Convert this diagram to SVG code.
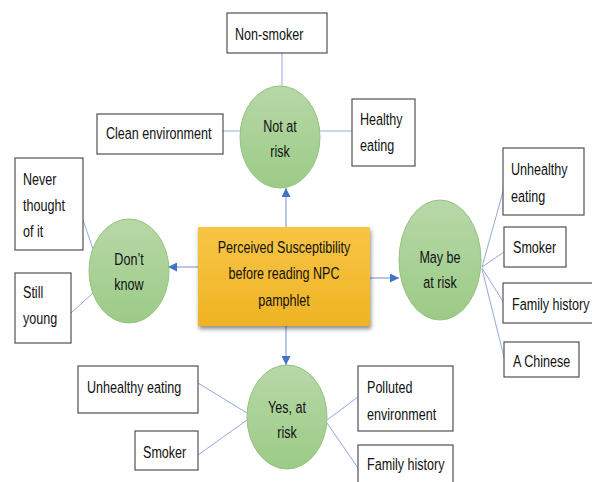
<svg xmlns="http://www.w3.org/2000/svg" width="592" height="482" viewBox="0 0 592 482">
<defs>
<linearGradient id="gGreen" x1="0" y1="0" x2="0" y2="1">
<stop offset="0" stop-color="#b7d8a8"/>
<stop offset="1" stop-color="#9ccb86"/>
</linearGradient>
<linearGradient id="gGold" x1="0" y1="0" x2="0" y2="1">
<stop offset="0" stop-color="#f8c545"/>
<stop offset="1" stop-color="#efb324"/>
</linearGradient>
<filter id="shadow" x="-10%" y="-10%" width="130%" height="140%">
<feGaussianBlur in="SourceAlpha" stdDeviation="2"/>
<feOffset dx="1" dy="3" result="b"/>
<feComponentTransfer><feFuncA type="linear" slope="0.45"/></feComponentTransfer>
<feMerge><feMergeNode/><feMergeNode in="SourceGraphic"/></feMerge>
</filter>
<marker id="arr" viewBox="0 0 10 10" refX="10" refY="5" markerWidth="9" markerHeight="9" markerUnits="userSpaceOnUse" orient="auto">
<path d="M0,0 L10,5 L0,10 z" fill="#4472c4"/>
</marker>
<style>
.box{fill:#ffffff;stroke:#505050;stroke-width:1.2}
.ell{fill:url(#gGreen);stroke:#94c27f;stroke-width:1}
.link{stroke:#8faadc;stroke-width:1;fill:none}
.arrow{stroke:#8faadc;stroke-width:1.3;fill:none;marker-end:url(#arr)}
text{font-family:"Liberation Sans",Arial,sans-serif;font-size:17px;fill:#111111}
.c{text-anchor:middle}
</style>
</defs>
<rect width="592" height="482" fill="#ffffff"/>

<g id="connectors">
<line class="link" x1="282" y1="53" x2="282" y2="86"/>
<line class="link" x1="223" y1="131" x2="240" y2="131"/>
<line class="link" x1="319" y1="131" x2="352" y2="131"/>
<line class="link" x1="83" y1="220" x2="93" y2="249"/>
<line class="link" x1="71" y1="313" x2="93" y2="293"/>
<line class="link" x1="482" y1="267" x2="504" y2="188"/>
<line class="link" x1="482" y1="267" x2="504" y2="252"/>
<line class="link" x1="482" y1="268" x2="504" y2="303"/>
<line class="link" x1="482" y1="269" x2="504" y2="357"/>
<line class="link" x1="198" y1="383" x2="247" y2="413"/>
<line class="link" x1="198" y1="455" x2="247" y2="420"/>
<line class="link" x1="327" y1="420" x2="358" y2="397"/>
<line class="link" x1="327" y1="423" x2="358" y2="468"/>
<line class="arrow" x1="286" y1="227" x2="286" y2="188"/>
<line class="arrow" x1="198" y1="267" x2="168" y2="267"/>
<line class="arrow" x1="370" y1="278" x2="399" y2="278"/>
<line class="arrow" x1="286" y1="326" x2="286" y2="365"/>
</g>

<g id="center">
<rect x="198" y="227" width="172" height="99" fill="url(#gGold)" filter="url(#shadow)"/>
<text class="c" transform="translate(284,253) scale(0.74,1)">Perceived Susceptibility</text>
<text class="c" transform="translate(284,279) scale(0.74,1)">before reading NPC</text>
<text class="c" transform="translate(284,306) scale(0.74,1)">pamphlet</text>
</g>

<g id="not-at-risk">
<ellipse class="ell" cx="280" cy="137" rx="40" ry="51"/>
<text class="c" transform="translate(280,132) scale(0.74,1)">Not at</text>
<text class="c" transform="translate(280,157) scale(0.74,1)">risk</text>
</g>
<g id="non-smoker">
<rect class="box" x="227" y="13" width="100" height="40"/>
<text transform="translate(235,40) scale(0.74,1)">Non-smoker</text>
</g>
<g id="clean-environment">
<rect class="box" x="97" y="114" width="126" height="40"/>
<text transform="translate(106,139) scale(0.74,1)">Clean environment</text>
</g>
<g id="healthy-eating">
<rect class="box" x="352" y="99" width="63" height="67"/>
<text transform="translate(360,125) scale(0.74,1)">Healthy</text>
<text transform="translate(360,151) scale(0.74,1)">eating</text>
</g>

<g id="dont-know">
<ellipse class="ell" cx="129" cy="271" rx="40" ry="52"/>
<text class="c" transform="translate(129,265) scale(0.74,1)">Don’t</text>
<text class="c" transform="translate(129,290) scale(0.74,1)">know</text>
</g>
<g id="never-thought">
<rect class="box" x="15" y="158" width="68" height="92"/>
<text transform="translate(23,185) scale(0.74,1)">Never</text>
<text transform="translate(23,211) scale(0.74,1)">thought</text>
<text transform="translate(23,237) scale(0.74,1)">of it</text>
</g>
<g id="still-young">
<rect class="box" x="15" y="273" width="56" height="70"/>
<text transform="translate(23,298) scale(0.74,1)">Still</text>
<text transform="translate(23,324) scale(0.74,1)">young</text>
</g>

<g id="may-be-at-risk">
<ellipse class="ell" cx="440" cy="260" rx="41" ry="60"/>
<text class="c" transform="translate(440,263) scale(0.74,1)">May be</text>
<text class="c" transform="translate(440,288) scale(0.74,1)">at risk</text>
</g>
<g id="unhealthy-eating-r">
<rect class="box" x="503" y="148" width="81" height="67"/>
<text transform="translate(511,175) scale(0.74,1)">Unhealthy</text>
<text transform="translate(511,202) scale(0.74,1)">eating</text>
</g>
<g id="smoker-r">
<rect class="box" x="504" y="227" width="62" height="40"/>
<text transform="translate(513,253) scale(0.74,1)">Smoker</text>
</g>
<g id="family-history-r">
<rect class="box" x="503" y="283" width="92" height="40"/>
<text transform="translate(512,310) scale(0.74,1)">Family history</text>
</g>
<g id="a-chinese">
<rect class="box" x="504" y="342" width="75" height="35"/>
<text transform="translate(513,367) scale(0.74,1)">A Chinese</text>
</g>

<g id="yes-at-risk">
<ellipse class="ell" cx="287" cy="417" rx="40" ry="52"/>
<text class="c" transform="translate(287,413) scale(0.74,1)">Yes, at</text>
<text class="c" transform="translate(287,438) scale(0.74,1)">risk</text>
</g>
<g id="unhealthy-eating-b">
<rect class="box" x="78" y="366" width="120" height="47"/>
<text transform="translate(87,393) scale(0.74,1)">Unhealthy eating</text>
</g>
<g id="smoker-b">
<rect class="box" x="135" y="431" width="63" height="39"/>
<text transform="translate(143,458) scale(0.74,1)">Smoker</text>
</g>
<g id="polluted-environment">
<rect class="box" x="358" y="366" width="95" height="65"/>
<text transform="translate(367,393) scale(0.74,1)">Polluted</text>
<text transform="translate(367,420) scale(0.74,1)">environment</text>
</g>
<g id="family-history-b">
<rect class="box" x="358" y="445" width="95" height="45"/>
<text transform="translate(367,470) scale(0.74,1)">Family history</text>
</g>
</svg>
